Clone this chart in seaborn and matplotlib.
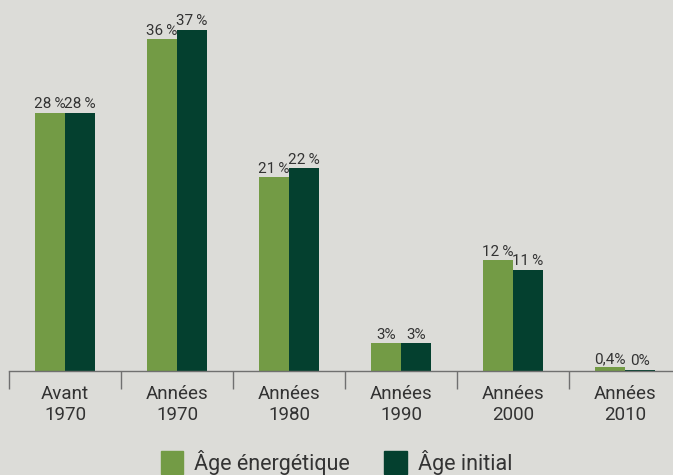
import matplotlib.pyplot as plt
import pandas as pd
import seaborn as sns

# ------------------------------------------------------------------
# Données
# ------------------------------------------------------------------
periodes = ["Avant\n1970", "Années\n1970", "Années\n1980", "Années\n1990", "Années\n2000", "Années\n2010"]
age_energetique = [28, 36, 21, 3, 12, 0.4]
age_initial = [28, 37, 22, 3, 11, 0.15]
labels_energetique = ["28\u2009%", "36\u2009%", "21\u2009%", "3%", "12\u2009%", "0,4%"]
labels_initial = ["28\u2009%", "37\u2009%", "22\u2009%", "3%", "11\u2009%", "0%"]
series = ["Âge énergétique", "Âge initial"]

df = pd.DataFrame({
    "periode": periodes * 2,
    "part": age_energetique + age_initial,
    "serie": [series[0]] * len(periodes) + [series[1]] * len(periodes),
})

BG = "#dcdcd8"
VERT = "#739b45"
FONCE = "#04402f"
TEXTE = "#333333"

sns.set_style("white")
plt.rcParams["font.family"] = ["Roboto", "DejaVu Sans"]

fig = plt.figure(figsize=(6.73, 4.75), dpi=100, facecolor=BG)
ax = fig.add_axes([9 / 673, 1 - 371 / 475, 1 - 9 / 673, 371 / 475 - 0.0], facecolor=BG)

sns.barplot(
    data=df, x="periode", y="part", hue="serie", hue_order=series,
    palette=[VERT, FONCE], width=0.54, gap=0, saturation=1,
    linewidth=0, ax=ax, legend=False,
)

for cont, labs in zip(ax.containers, [labels_energetique, labels_initial]):
    ax.bar_label(cont, labels=labs, padding=1, fontsize=11, color=TEXTE)

ax.set_ylim(0, 371 / 9.22)
ax.set_xlim(-0.5, -0.5 + (673 - 9) / 112)
ax.set_xlabel("")
ax.set_ylabel("")
ax.set_yticks([])

# graduations aux frontières des catégories, libellés au centre
ax.set_xticks([i - 0.5 for i in range(len(periodes))])
ax.set_xticklabels([])
ax.set_xticks(range(len(periodes)), minor=True)
ax.set_xticklabels(periodes, minor=True, fontsize=13.5, color=TEXTE, linespacing=1.2)
ax.tick_params(axis="x", which="major", bottom=True, length=13, width=1, color="#707070", direction="out")
ax.tick_params(axis="x", which="minor", bottom=True, length=0, pad=10)

for s in ["top", "right", "left"]:
    ax.spines[s].set_visible(False)
ax.spines["bottom"].set_color("#707070")
ax.spines["bottom"].set_linewidth(1)

handles = [plt.Rectangle((0, 0), 1, 1, color=c) for c in [VERT, FONCE]]
fig.legend(
    handles, series, loc="lower center", bbox_to_anchor=(0.5, -0.04), ncol=2,
    frameon=False, handlelength=1.05, handleheight=1.3,
    handletextpad=0.5, columnspacing=1.6, labelcolor=TEXTE,
    prop={"size": 15.5},
)

fig.savefig("out.png", dpi=100, facecolor=BG)
